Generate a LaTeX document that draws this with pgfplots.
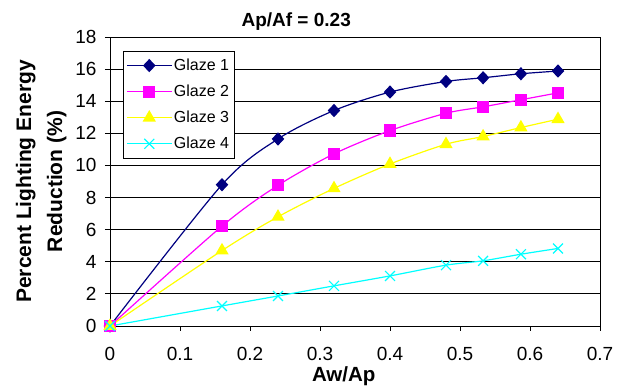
\documentclass[border=0pt]{standalone}
\usepackage{fontspec}
\setmainfont{Liberation Sans}
\usepackage{pgfplots}
\pgfplotsset{compat=1.18}
\usepackage{pgfplotstable}
\usetikzlibrary{calc}

% Lighting energy reduction versus Aw/Ap, one table per glazing type
\pgfplotstableread{
x      y
0      0
0.16   8.80
0.24   11.65
0.32   13.42
0.40   14.57
0.48   15.23
0.533  15.46
0.587  15.71
0.64   15.88
}\glazeA
\pgfplotstableread{
x      y
0      0
0.16   6.22
0.24   8.76
0.32   10.72
0.40   12.17
0.48   13.25
0.533  13.65
0.587  14.09
0.64   14.52
}\glazeB
\pgfplotstableread{
x      y
0      0
0.16   4.70
0.24   6.80
0.32   8.57
0.40   10.09
0.48   11.32
0.533  11.80
0.587  12.36
0.64   12.88
}\glazeC
\pgfplotstableread{
x      y
0      0
0.16   1.25
0.24   1.87
0.32   2.50
0.40   3.12
0.48   3.79
0.533  4.06
0.587  4.47
0.64   4.83
}\glazeD

\definecolor{gnavy}{RGB}{0,0,128}
\definecolor{gmag}{RGB}{255,0,255}
\definecolor{gyel}{RGB}{255,255,0}
\definecolor{gcyan}{RGB}{0,255,255}

\begin{document}
\begin{tikzpicture}[x=1bp,y=1bp]
\begin{axis}[
  width=490bp, height=289bp, scale only axis,
  xmin=0, xmax=0.7, ymin=0, ymax=18,
  xtick={0,0.1,...,0.7}, ytick={0,2,...,18},
  xticklabels={0,0.1,0.2,0.3,0.4,0.5,0.6,0.7},
  /pgf/number format/assume math mode=true,
  tick label style={font=\fontsize{19bp}{22bp}\selectfont},
  xticklabel style={anchor=base, yshift=-30bp},
  yticklabel style={anchor=east, xshift=-5bp},
  tick align=outside, xtick pos=bottom, ytick pos=left,
  major tick length=5bp,
  tick style={black, line width=0.9bp},
  axis line style={black, line width=0.9bp},
  ymajorgrids, grid style={black, line width=0.9bp},
  xlabel={\bfseries Aw/Ap},
  xlabel style={at={(rel axis cs:0.477,0)}, anchor=base, yshift=-55.7bp,
    font=\fontsize{20.5bp}{24bp}\selectfont},
  ylabel={\bfseries Percent Lighting Energy\\\bfseries Reduction (\%)},
  % the label is turned a quarter: yshift moves it leftwards
  ylabel style={at={(rel axis cs:0,0.5)}, anchor=south, yshift=40bp,
    align=center, font=\fontsize{21bp}{31bp}\selectfont},
  legend style={at={(rel axis cs:0.027,0.953)}, anchor=north west,
    draw=black, line width=0.9bp, fill=white,
    font=\fontsize{16bp}{19bp}\selectfont,
    inner xsep=3bp, inner ysep=1.5bp,
    nodes={inner ysep=6.5bp},
    cells={anchor=west}},
  legend image code/.code={%
    \draw[mark repeat=2, mark phase=2] plot coordinates {(0bp,0bp) (22bp,0bp) (44bp,0bp)};},
  every axis plot/.append style={line width=1.2bp, smooth},
  clip=false,
]
\addplot[gnavy, mark=diamond*, mark size=5.8bp, mark options={solid, fill=gnavy, xscale=1.25}] table {\glazeA};
\addlegendentry{Glaze 1}
\addplot[gmag, mark=square*, mark size=5.5bp, mark options={solid, fill=gmag}] table {\glazeB};
\addlegendentry{Glaze 2}
\addplot[gyel, mark=triangle*, mark size=6.5bp, mark options={solid, fill=gyel}] table {\glazeC};
\addlegendentry{Glaze 3}
\addplot[gcyan, mark=x, mark size=7bp, mark options={solid}] table {\glazeD};
\addlegendentry{Glaze 4}

\node[anchor=base, font=\bfseries\fontsize{19bp}{22bp}\selectfont]
  at (rel axis cs:0.38,1) [yshift=10.5bp] {Ap/Af = 0.23};
\coordinate (sw) at (rel axis cs:0,0);
\coordinate (ne) at (rel axis cs:1,1);
\end{axis}
\path ($(sw)+(-110bp,-62bp)$) rectangle ($(ne)+(26bp,37bp)$);
\end{tikzpicture}
\end{document}
